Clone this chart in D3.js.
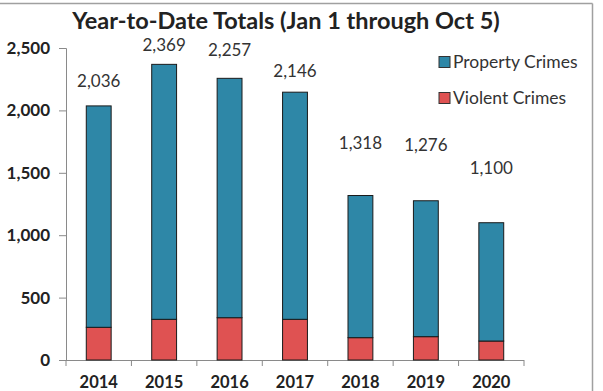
<!DOCTYPE html>
<html>
<head>
<meta charset="utf-8">
<script src="https://cdn.jsdelivr.net/npm/d3@7/dist/d3.min.js"></script>
<style>
  html, body { margin: 0; padding: 0; background: #fff; }
  svg { display: block; }
</style>
</head>
<body>
<svg id="chart" width="603" height="391"></svg>
<script>
// Year-to-date crime totals, Jan 1 through Oct 5
const years = ["2014", "2015", "2016", "2017", "2018", "2019", "2020"];
const totals = [2036, 2369, 2257, 2146, 1318, 1276, 1100];
const violent = [262, 326, 339, 326, 179, 187, 152];
const property = totals.map((t, i) => t - violent[i]);
const yTicks = [0, 500, 1000, 1500, 2000, 2500];
const seriesNames = ["Property Crimes", "Violent Crimes"];

// Vertical lift of each total label above its bar top (px)
const labelLift = [25, 19, 28, 21, 52, 56, 55];

const colors = { property: "#2e87a7", violent: "#df5252" };
const font = "Lato, 'Open Sans', sans-serif";

const svg = d3.select("#chart");

// Frame lines along the top and right edges
svg.append("line").attr("x1", 0).attr("x2", 592.5).attr("y1", 3.5).attr("y2", 3.5)
  .attr("stroke", "#a0a0a0").attr("stroke-width", 1.5);
svg.append("line").attr("x1", 592.5).attr("x2", 592.5).attr("y1", 3.5).attr("y2", 391)
  .attr("stroke", "#a0a0a0").attr("stroke-width", 1.5);

const x = d3.scaleBand().domain(years).range([66, 524]).paddingInner(0.62).paddingOuter(0.31);
const y = d3.scaleLinear().domain([0, 2500]).range([360, 48]);

// Title
svg.append("text")
  .attr("x", 286).attr("y", 29)
  .attr("text-anchor", "middle")
  .attr("font-family", font).attr("font-weight", "bold").attr("font-size", 23.5)
  .attr("fill", "#222")
  .text("Year-to-Date Totals (Jan 1 through Oct 5)");

// Y axis
const yAxis = svg.append("g").attr("transform", "translate(66,0)")
  .call(d3.axisLeft(y).tickValues(yTicks).tickSize(7).tickPadding(9).tickFormat(d3.format(",")));
yAxis.select(".domain").attr("stroke", "#8a8a8a");
yAxis.selectAll(".tick line").attr("stroke", "#8a8a8a");
yAxis.selectAll(".tick text")
  .attr("font-family", font).attr("font-weight", "bold").attr("font-size", 17).attr("fill", "#222");

// X axis with ticks at category boundaries
const boundaries = d3.range(years.length + 1).map(i => 66 + i * (524 - 66) / years.length);
svg.append("line").attr("x1", 66).attr("x2", 524).attr("y1", 360.5).attr("y2", 360.5)
  .attr("stroke", "#8a8a8a");
svg.selectAll(".xtick").data(boundaries).enter().append("line")
  .attr("class", "xtick")
  .attr("x1", d => d).attr("x2", d => d).attr("y1", 360).attr("y2", 366)
  .attr("stroke", "#8a8a8a");
svg.selectAll(".xlabel").data(years).enter().append("text")
  .attr("class", "xlabel")
  .attr("x", d => x(d) + x.bandwidth() / 2).attr("y", 388)
  .attr("text-anchor", "middle")
  .attr("font-family", font).attr("font-weight", "bold").attr("font-size", 16.5).attr("fill", "#222")
  .text(d => d);

// Stacked bars
const rows = years.map((yr, i) => ({ year: yr, violent: violent[i], property: property[i] }));
const stack = d3.stack().keys(["violent", "property"])(rows);
svg.selectAll(".series").data(stack).enter().append("g")
  .attr("fill", d => colors[d.key])
  .selectAll("rect").data(d => d).enter().append("rect")
  .attr("x", d => x(d.data.year))
  .attr("y", d => y(d[1]))
  .attr("width", x.bandwidth())
  .attr("height", d => y(d[0]) - y(d[1]))
  .attr("stroke", "#1a1a1a").attr("stroke-width", 1);

// Total labels above bars
svg.selectAll(".total").data(years).enter().append("text")
  .attr("class", "total")
  .attr("x", d => x(d) + x.bandwidth() / 2)
  .attr("y", (d, i) => y(totals[i]) - labelLift[i])
  .attr("dy", "0.35em")
  .attr("text-anchor", "middle")
  .attr("font-family", font).attr("font-size", 17).attr("fill", "#333")
  .text((d, i) => d3.format(",")(totals[i]));

// Legend
const legend = svg.append("g");
const legendItems = [
  { name: seriesNames[0], color: colors.property, y: 62 },
  { name: seriesNames[1], color: colors.violent, y: 98 }
];
legendItems.forEach(it => {
  legend.append("rect").attr("x", 439).attr("y", it.y - 5.5).attr("width", 11).attr("height", 11)
    .attr("fill", it.color).attr("stroke", "#333").attr("stroke-width", 1);
  legend.append("text").attr("x", 453).attr("y", it.y).attr("dy", "0.35em")
    .attr("font-family", font).attr("font-size", 17.5).attr("fill", "#333")
    .text(it.name);
});
</script>
</body>
</html>
